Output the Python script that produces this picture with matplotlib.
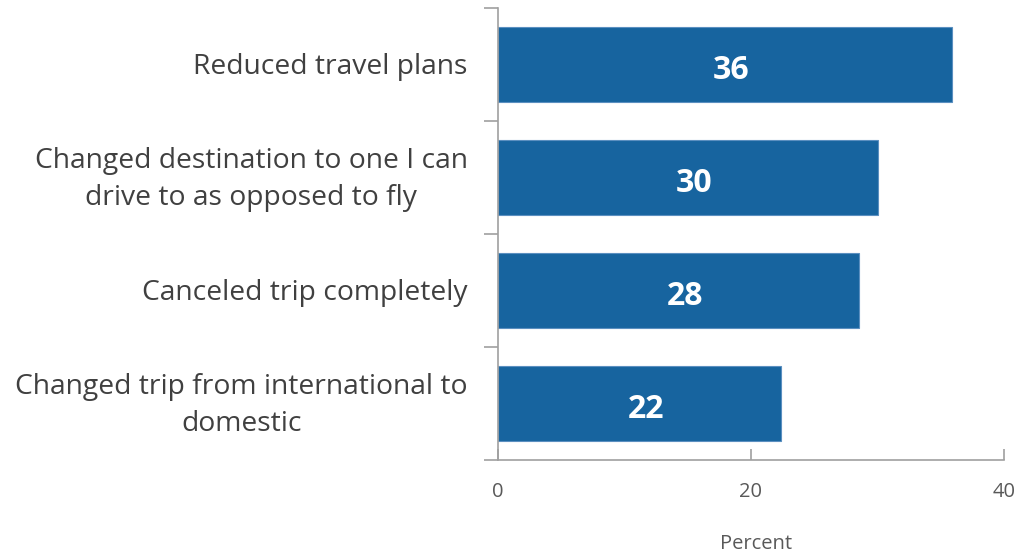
import matplotlib
matplotlib.use("Agg")
import matplotlib.pyplot as plt

categories = ["Reduced travel plans",
              "Changed destination to one I can\ndrive to as opposed to fly",
              "Canceled trip completely",
              "Changed trip from international to\ndomestic"]
values = [35.9, 30.0, 28.5, 22.4]
labels = ["36", "30", "28", "22"]
xticks = [0, 20, 40]

plt.rcParams['font.family'] = ['Open Sans', 'DejaVu Sans']

fig = plt.figure(figsize=(10.27, 5.55), dpi=100)
ax = fig.add_axes([498/1027, 1-460/555, (1004-498)/1027, (460-8)/555])

n = len(categories)
ypos = [n - 0.5 - i for i in range(n)]
bar_color = "#17649F"
ax.barh(ypos, values, height=0.66, color=bar_color, edgecolor="#5B8FC0", linewidth=0.8)
for y, v, t in zip(ypos, values, labels):
    ax.text(v/2 + 0.5, y - 0.055, t, ha="center", va="center", color="white",
            fontsize=23, fontweight="bold")

ax.set_xlim(0, 40)
ax.set_ylim(0, n)
ax.set_xticks(xticks)
ax.set_xticklabels([str(x) for x in xticks], fontsize=14.5, color="#595959")
ax.set_yticks(range(n + 1))
ax.set_yticklabels([])
ax.tick_params(axis='y', direction='out', length=10, color="#A0A0A0", width=1.2)
ax.tick_params(axis='x', direction='in', length=8, color="#A0A0A0", width=1.2, pad=16)
for y, c in zip(ypos, categories):
    ax.text(-2.4, y - 0.02, c, ha="right", va="center", fontsize=20.3, color="#404040",
            multialignment="center", linespacing=1.45)

for s in ["top", "right"]:
    ax.spines[s].set_visible(False)
for s in ["left", "bottom"]:
    ax.spines[s].set_color("#A0A0A0")
    ax.spines[s].set_linewidth(1.2)

fig.text((498+1004)/2/1027 + 0.005, 1-544/555, "Percent", ha="center", va="center",
         fontsize=14.5, color="#595959")

fig.savefig("out.png", dpi=100)
